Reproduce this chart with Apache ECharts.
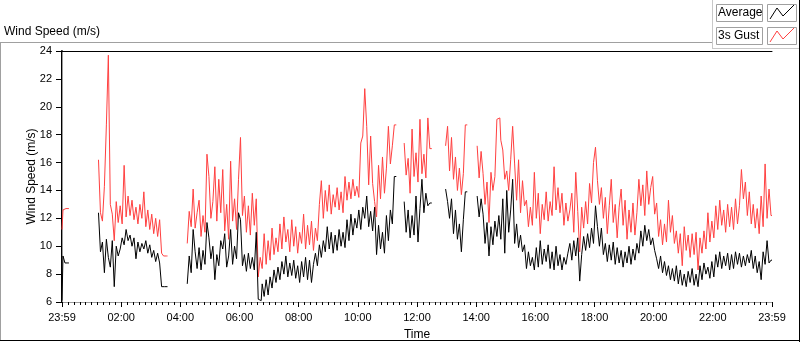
<!DOCTYPE html>
<html>
<head>
<meta charset="utf-8">
<script src="https://cdn.jsdelivr.net/npm/echarts@6/dist/echarts.min.js"></script>
<style>
  html, body { margin: 0; padding: 0; background: #fff; }
  #chart { width: 800px; height: 342px; }
</style>
</head>
<body>
<div id="chart"></div>
<script>
// tick labels of the time axis (every 2 h, first and last are 23:59)
const tickLabels = ['23:59', '02:00', '04:00', '06:00', '08:00', '10:00', '12:00',
  '14:00', '16:00', '18:00', '20:00', '22:00', '23:59']
// one sample every 4 minutes, starting at 23:59 of the previous day
const stepMin = 4

// 3s gust (m/s), null = no data
const gust = [
  11.2, 12.6, 12.7, 12.7,
  null, null, null, null, null, null, null, null, null, null, null, null, null, null, null,
  16.2, 12.4, 11.8, 14.3, 18.7, 23.7, 13.0, 12.3, 10.4, 13.2, 11.7, 12.9, 11.6, 15.8, 12.1,
  13.6, 12.2, 13.3, 11.9, 12.8, 11.6, 13.0, 12.0, 13.9, 11.4, 12.6, 11.2, 12.3, 10.9, 12.0,
  10.7, 11.9, 9.5, 9.3, 9.3,
  null, null, null, null, null, null, null, null, null, null,
  10.2, 12.5, 11.4, 14.1, 11.3, 12.4, 13.3, 10.7, 12.2, 11.0,
  16.6, 15.0, 12.0, 13.2, 15.7, 11.8, 14.8, 12.4, 15.5, 11.1,
  13.0, 10.5, 16.1, 11.8, 13.4, 11.2, 14.8, 17.8, 12.2, 13.6,
  11.0, 12.9, 10.8, 13.8, 11.5, 13.4, 7.8, 9.2, 8.4, 10.9,
  8.7, 10.4, 9.0, 11.3, 9.4, 10.6, 9.6, 11.6, 9.8, 12.1,
  10.3, 11.2, 9.6, 11.9, 10.0, 11.4, 9.5, 11.0, 10.2, 12.3,
  9.8, 11.5, 10.1, 11.8, 9.7, 11.3, 10.4, 13.0, 14.7, 12.0,
  14.0, 12.5, 14.4, 12.3, 13.7, 12.8, 14.2, 12.6, 13.9, 12.4,
  15.0, 13.3, 14.6, 13.4, 14.8, 13.6, 14.3, 13.5, 17.4, 17.9,
  21.3, 18.6, 14.4, 17.9, 14.5, 13.2, 12.1, 15.8, 13.4, 16.4,
  13.8, 15.6, 18.6, 15.9, 17.2, 18.7,
  null, null, null, null,
  17.4, 15.1, 16.3, 13.8, 18.4, 15.0, 16.7, 14.6, 19.1, 15.2, 16.6, 14.9, 19.2, 17.0,
  null, null, null, null, null, null, null,
  17.2, 18.6, 15.4, 17.8, 14.8, 16.4, 14.0, 15.6, 13.7, 15.2, 18.7,
  null, null, null, null, null,
  17.2, 14.9, 16.8, 15.2, 13.0, 14.6, 11.7, 15.3, 14.0, 15.0,
  19.1, 19.2, 17.6, 16.9, 14.8, 15.4, 14.0, 16.2, 18.6, 15.9,
  13.3, 16.2, 12.4, 14.7, 12.9, 13.3, 11.4, 12.8, 11.5, 15.3,
  12.0, 13.8, 10.9, 13.0, 11.9, 13.9, 11.8, 13.2, 12.2, 15.7,
  12.6, 14.2, 12.4, 13.8, 11.5, 13.1, 11.8,
  12.6, 13.8, 11.0, 15.3, 12.5, 9.6, 12.8, 11.3, 13.2, 11.6,
  14.5, 13.1, 16.0, 17.1, 14.7, 13.0, 14.2, 12.0, 13.5, 10.9,
  12.9, 14.8, 11.7, 13.0, 10.6, 12.8, 14.1, 11.5, 13.3, 10.5,
  12.6, 11.0, 13.1, 10.8, 12.4, 14.8, 12.9, 14.4, 12.2, 15.4,
  13.0, 14.2, 15.0, 12.3, 13.1, 10.7, 11.9, 10.1, 11.6, 10.3,
  13.3, 11.0, 12.2, 10.2, 11.1, 9.5, 10.9, 8.6, 11.4, 9.7,
  10.8, 9.2, 10.9, 9.4, 11.0, 8.3, 10.6, 9.5, 11.1, 9.8,
  12.4, 10.3, 11.8, 10.6, 12.9, 11.2, 13.3, 11.5, 12.6, 11.0,
  13.0, 11.4, 12.8, 11.2, 13.4, 11.6, 12.9, 15.5, 13.4, 14.6,
  12.2, 13.9, 11.6, 13.0, 11.3, 12.7, 10.9, 13.6, 11.4, 15.9,
  12.0, 14.1, 12.2
]

// average (m/s), null = no data
const average = [
  6.1, 9.3, 8.8, 8.8,
  null, null, null, null, null, null, null, null, null, null, null, null, null, null, null,
  12.4, 9.6, 10.3, 8.1, 10.5, 9.2, 8.5, 10.4, 7.1, 10.0, 9.3, 9.8, 10.6, 10.1, 11.2,
  10.4, 10.8, 10.0, 10.6, 9.1, 10.3, 9.6, 10.2, 9.8, 10.4, 9.5, 10.1, 9.2, 9.7, 8.9,
  9.5, 8.8, 7.1, 7.1, 7.1,
  null, null, null, null, null, null, null, null, null, null,
  7.3, 9.3, 8.1, 11.2, 9.6, 8.4, 9.9, 8.3, 9.7, 8.7,
  11.7, 10.6, 9.1, 10.0, 7.6, 9.4, 8.6, 10.4, 9.8, 10.9,
  8.5, 9.3, 11.2, 8.7, 10.0, 9.1, 12.4, 11.9, 8.6, 9.4,
  8.2, 9.5, 8.4, 9.2, 8.3, 11.0, 6.2, 6.1, 7.3, 6.4,
  7.6, 6.5, 7.8, 7.0, 8.3, 7.4, 8.5, 7.6, 8.9, 8.0,
  9.3, 7.8, 8.8, 7.9, 9.0, 7.7, 8.6, 7.4, 8.9, 7.8,
  9.2, 7.6, 9.0, 7.4, 8.7, 9.5, 8.6, 10.1, 9.2, 10.4,
  9.6, 11.4, 9.8, 11.0, 9.5, 10.8, 9.7, 11.2, 10.0, 11.0,
  9.9, 11.9, 10.4, 12.3, 10.8, 12.0, 11.3, 12.6, 11.2, 12.8,
  12.0, 13.6, 11.4, 12.5, 11.1, 12.8, 9.4, 11.5, 9.8, 11.0,
  9.5, 12.2, 10.4, 12.6, 11.6, 15.0,
  null, null, null, null,
  13.2, 11.0, 12.6, 10.6, 12.2, 10.8, 13.6, 10.3, 12.7, 14.8, 12.4, 13.8, 12.9, 13.1,
  null, null, null, null, null, null, null,
  14.1, 13.2, 12.0, 13.4, 10.9, 12.6, 10.5, 11.6, 9.6, 11.9, 13.9,
  null, null, null, null, null,
  13.6, 12.1, 13.4, 12.3, 10.2, 11.7, 9.3, 11.4, 10.1, 11.8,
  10.7, 12.2, 10.5, 13.4, 9.5, 14.0, 11.0, 12.6, 14.8, 10.2,
  11.6, 9.9, 10.8, 9.6, 10.1, 8.4, 9.6, 8.6, 9.2, 8.3,
  9.9, 8.5, 10.4, 8.7, 9.8, 8.9, 10.1, 8.4, 9.6, 8.3,
  10.0, 8.6, 9.4, 8.3, 9.2, 8.7, 9.5,
  10.2, 9.0, 10.4, 9.3, 10.6, 7.5, 9.4, 10.7, 9.7, 10.9,
  9.9, 11.3, 10.2, 12.9, 11.4, 10.0, 11.3, 9.4, 10.2, 8.9,
  10.1, 9.0, 10.3, 8.7, 9.9, 8.8, 9.7, 8.5, 9.6, 8.8,
  10.0, 8.7, 9.8, 9.0, 10.2, 9.5, 11.1, 10.0, 11.5, 10.4,
  11.2, 10.1, 10.6, 9.7, 9.1, 8.4, 9.3, 8.1, 8.9, 7.9,
  8.6, 7.6, 8.4, 7.5, 8.6, 7.3, 8.3, 7.2, 8.0, 7.1,
  8.2, 7.4, 8.4, 7.2, 8.0, 7.1, 8.6, 7.6, 8.8, 8.0,
  8.5, 7.7, 8.9, 7.8, 9.4, 8.5, 9.6, 8.4, 9.3, 8.6,
  9.5, 8.3, 9.4, 8.4, 9.6, 8.7, 9.5, 8.5, 9.3, 8.6,
  9.4, 8.8, 9.7, 8.4, 9.3, 8.1, 8.9, 7.6, 9.6, 8.7,
  10.4, 8.8, 9.0
]

const font = 'Liberation Sans, Arial, sans-serif'

function toPairs (arr) {
  return arr.map((v, i) => [i * stepMin, v === null ? '-' : v])
}

const chart = echarts.init(document.getElementById('chart'), null, { renderer: 'canvas' })

const option = {
  animation: false,
  backgroundColor: '#fff',
  textStyle: { fontFamily: font },
  title: {
    text: 'Wind Speed (m/s)',
    left: 4,
    top: 26,
    padding: 0,
    textStyle: { fontSize: 12, fontWeight: 'normal', color: '#000', fontFamily: font }
  },
  grid: { left: 62, right: 28, top: 51, bottom: 40, containLabel: false, outerBoundsMode: 'none' },
  xAxis: [
    {
      type: 'value',
      min: 0,
      max: 1440,
      interval: 120,
      name: 'Time',
      nameLocation: 'middle',
      nameGap: 27,
      nameMoveOverlap: false,
      nameTextStyle: { fontSize: 12, color: '#000' },
      axisLine: { lineStyle: { color: '#9a9a9a', width: 1 } },
      axisTick: { length: 5, lineStyle: { color: '#000' } },
      minorTick: { show: true, splitNumber: 10, length: 3, lineStyle: { color: '#000' } },
      axisLabel: {
        margin: 10,
        fontSize: 11,
        color: '#000',
        formatter: v => tickLabels[Math.round(v / 120)]
      },
      splitLine: { show: false }
    },
    {
      type: 'value',
      position: 'top',
      min: 0,
      max: 1440,
      axisLine: { lineStyle: { color: '#000', width: 1 } },
      axisTick: { show: false },
      axisLabel: { show: false },
      splitLine: { show: false }
    }
  ],
  yAxis: [
    {
      type: 'value',
      min: 6,
      max: 24,
      interval: 2,
      name: 'Wind Speed (m/s)',
      nameLocation: 'middle',
      nameRotate: 90,
      nameGap: 24,
      nameMoveOverlap: false,
      nameTextStyle: { fontSize: 12, color: '#000' },
      axisLine: { show: true, lineStyle: { color: '#000', width: 2 } },
      axisTick: { show: true, length: 6, lineStyle: { color: '#000' } },
      axisLabel: { margin: 10, fontSize: 11, color: '#000' },
      splitLine: { show: false }
    },
    {
      type: 'value',
      position: 'right',
      min: 6,
      max: 24,
      axisLine: { show: true, lineStyle: { color: '#9a9a9a', width: 1 } },
      axisTick: { show: false },
      axisLabel: { show: false },
      splitLine: { show: false }
    }
  ],
  series: [
    {
      name: '3s Gust',
      type: 'line',
      step: 'middle',
      data: toPairs(gust),
      showSymbol: false,
      symbol: 'none',
      connectNulls: false,
      sampling: null,
      lineStyle: { color: '#ff4040', width: 1 },
      z: 2
    },
    {
      name: 'Average',
      type: 'line',
      step: 'middle',
      data: toPairs(average),
      showSymbol: false,
      symbol: 'none',
      connectNulls: false,
      sampling: null,
      lineStyle: { color: '#000', width: 1 },
      z: 3
    }
  ],
  // frame and legend panel in the LabVIEW style
  graphic: [
    { type: 'line', shape: { x1: 0, y1: 42.5, x2: 712, y2: 42.5 }, style: { stroke: '#a0a0a0', lineWidth: 1 } },
    { type: 'line', shape: { x1: 0.5, y1: 42, x2: 0.5, y2: 341 }, style: { stroke: '#a0a0a0', lineWidth: 1 } },
    { type: 'line', shape: { x1: 0, y1: 340.5, x2: 800, y2: 340.5 }, style: { stroke: '#000', lineWidth: 1 } },
    { type: 'line', shape: { x1: 799.5, y1: 0, x2: 799.5, y2: 342 }, style: { stroke: '#000', lineWidth: 1 } },
    { type: 'line', shape: { x1: 712.5, y1: 0, x2: 712.5, y2: 48 }, style: { stroke: '#c8c8c8', lineWidth: 1 } },
    { type: 'line', shape: { x1: 712, y1: 48.5, x2: 799, y2: 48.5 }, style: { stroke: '#c8c8c8', lineWidth: 1 } },
    // legend: Average
    { type: 'rect', shape: { x: 716.5, y: 4.5, width: 46, height: 17 }, style: { fill: '#fff', stroke: '#a0a0a0', lineWidth: 1 } },
    { type: 'text', x: 718, y: 13, style: { text: 'Average', font: '12px ' + font, fill: '#000', verticalAlign: 'middle' } },
    { type: 'rect', shape: { x: 767.5, y: 4.5, width: 29, height: 17 }, style: { fill: '#fff', stroke: '#a0a0a0', lineWidth: 1 } },
    { type: 'polyline', shape: { points: [[770, 19], [777, 8], [783, 16], [794, 5]] }, style: { stroke: '#000', lineWidth: 1, fill: null } },
    // legend: 3s Gust
    { type: 'rect', shape: { x: 716.5, y: 27.5, width: 46, height: 17 }, style: { fill: '#fff', stroke: '#a0a0a0', lineWidth: 1 } },
    { type: 'text', x: 718, y: 36, style: { text: '3s Gust', font: '12px ' + font, fill: '#000', verticalAlign: 'middle' } },
    { type: 'rect', shape: { x: 767.5, y: 27.5, width: 29, height: 17 }, style: { fill: '#fff', stroke: '#a0a0a0', lineWidth: 1 } },
    { type: 'polyline', shape: { points: [[770, 42], [777, 31], [783, 39], [794, 28]] }, style: { stroke: '#ff4040', lineWidth: 1, fill: null } }
  ]
}

chart.setOption(option)
</script>
</body>
</html>
